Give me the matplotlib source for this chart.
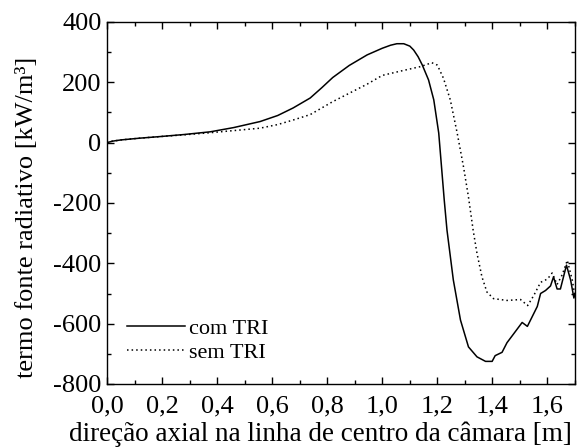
import numpy as np
import matplotlib
matplotlib.use("Agg")
import matplotlib.pyplot as plt
from matplotlib.ticker import MultipleLocator, FuncFormatter

# com TRI (solid)
x_com = [0.0, 0.02, 0.05, 0.073, 0.12, 0.19, 0.28, 0.375, 0.46, 0.556, 0.62, 0.676, 0.738,
         0.78, 0.82, 0.88, 0.945, 0.975, 1.0, 1.03, 1.053, 1.078, 1.1, 1.114, 1.13, 1.145,
         1.168, 1.187, 1.205, 1.225, 1.235, 1.258, 1.284, 1.313, 1.344, 1.375, 1.399, 1.41,
         1.435, 1.453, 1.472, 1.49, 1.508, 1.527, 1.545, 1.563, 1.575, 1.593, 1.611, 1.622,
         1.635, 1.647, 1.669, 1.684, 1.696, 1.7]
y_com = [0, 5, 9, 11, 15, 20, 27, 36, 50, 70, 90, 115, 148,
         182, 216, 256, 291, 303, 313, 323, 328, 328, 320, 307, 285, 258,
         208, 142, 32, -190, -290, -455, -588, -677, -710, -725, -725, -706,
         -695, -663, -640, -618, -596, -609, -576, -543, -500, -490, -475, -445,
         -485, -485, -406, -455, -515, -500]

# sem TRI (dotted)
x_sem = [0.0, 0.02, 0.05, 0.073, 0.12, 0.19, 0.28, 0.375, 0.46, 0.556, 0.62, 0.676, 0.738,
         0.82, 0.945, 1.0, 1.07, 1.138, 1.18, 1.2, 1.222, 1.247, 1.272, 1.295, 1.313, 1.33,
         1.344, 1.362, 1.38, 1.404, 1.453, 1.502, 1.528, 1.55, 1.575, 1.6, 1.617, 1.635,
         1.654, 1.672, 1.69, 1.7]
y_sem = [0, 5, 9, 11, 15, 20, 26, 33, 40, 48, 60, 75, 93,
         136, 194, 223, 238, 252, 265, 257, 214, 142, 32, -80, -180, -290,
         -367, -445, -495, -517, -523, -520, -540, -507, -463, -452, -432, -470,
         -437, -390, -455, -510]

x_ticks = [0.0, 0.2, 0.4, 0.6, 0.8, 1.0, 1.2, 1.4, 1.6]
y_ticks = [-800, -600, -400, -200, 0, 200, 400]

plt.rcParams['font.family'] = ['Liberation Serif', 'DejaVu Serif']
plt.rcParams['mathtext.fontset'] = 'stix'
plt.rcParams['axes.unicode_minus'] = False

fig = plt.figure(figsize=(5.78, 4.47), dpi=100)
ax = fig.add_axes([107 / 578, 63 / 447, 468 / 578, 362 / 447])

ax.plot(x_com, y_com, color='black', lw=1.1, label='com TRI')
ax.plot(x_sem, y_sem, color='black', lw=1.1, linestyle=(0, (1, 2)), label='sem TRI')

ax.set_xlim(0, 1.7)
ax.set_ylim(-800, 400)
ax.set_xticks(x_ticks)
ax.set_yticks(y_ticks)
ax.xaxis.set_minor_locator(MultipleLocator(0.1))
ax.yaxis.set_minor_locator(MultipleLocator(100))
ax.xaxis.set_major_formatter(FuncFormatter(lambda v, p: f"{v:.1f}".replace('.', ',')))
ax.tick_params(which='both', direction='in', top=True, right=True, labelsize=19)
ax.tick_params(axis='x', pad=8)
ax.tick_params(axis='y', pad=4)
ax.tick_params(which='major', length=5, width=1)
ax.tick_params(which='minor', length=3, width=1)
for s in ax.spines.values():
    s.set_linewidth(1.0)

ax.set_xlabel('direção axial na linha de centro da câmara [m]', fontsize=19.5)
ax.set_ylabel('termo fonte radiativo [kW/m³]', fontsize=19)
ax.xaxis.set_label_coords(0.455, -0.103)
ax.yaxis.set_label_coords(-0.147, 0.461)

ax.legend(loc='center left', frameon=False, fontsize=16, handlelength=2.6,
          handletextpad=0.2, labelspacing=0.15,
          bbox_to_anchor=(0.0, 0.12))

fig.savefig('out.png', dpi=100)
